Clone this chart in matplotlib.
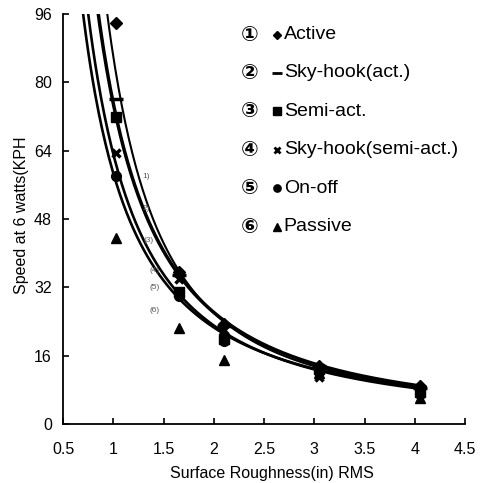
import numpy as np
import matplotlib
matplotlib.use("Agg")
import matplotlib.pyplot as plt

plt.rcParams['font.family'] = ['Liberation Sans', 'DejaVu Sans', 'Noto Sans CJK JP']

# Измеренные точки
roughness = [1.03, 1.65, 2.1, 3.05, 4.05]
active = [94, 35.5, 23.5, 13.5, 8.8]
skyhook_act = [76, 35, 23, 13.5, 8.5]
semi_act = [72, 31, 20, 13, 7.5]
skyhook_semi = [63.5, 34, 22, 11, 7]
on_off = [58, 30, 19.5, 13, 8]
passive = [43.5, 22.5, 15, 12, 6]

# Кривые аппроксимации y = a * x^-b + c
curve_a = [84.0, 75.0, 63.2, 58.7]
curve_b = [1.807, 1.521, 1.454, 1.376]
curve_c = [2.0, 0.0, 0.0, 0.0]
curve_lw = [1.5, 2.5, 1.9, 1.9]

series_names = ["Active", "Sky-hook(act.)", "Semi-act.", "Sky-hook(semi-act.)", "On-off", "Passive"]
series_nums = ["①", "②", "③", "④", "⑤", "⑥"]
series_markers = ["D", "_", "s", "x", "o", "^"]
series_data = [active, skyhook_act, semi_act, skyhook_semi, on_off, passive]

curve_tags = ["1)", "2)", "(3)", "(4)", "(5)", "(6)"]
tag_x = [1.33, 1.33, 1.35, 1.41, 1.41, 1.41]
tag_y = [58, 50.5, 43, 36, 32, 26.5]

fig = plt.figure(figsize=(4.89, 4.83), dpi=100)
ax = fig.add_axes([0.129, 0.122, 0.822, 0.849])

x = np.linspace(0.6, 4.05, 300)
for a, b, c, lw in zip(curve_a, curve_b, curve_c, curve_lw):
    ax.plot(x, a * x ** (-b) + c, color="black", lw=lw)

sizes = {"D": 6, "_": 10, "s": 7, "x": 6, "o": 7, "^": 7}
for data, m in zip(series_data, series_markers):
    ax.plot(roughness, data, linestyle="none", marker=m, color="black",
            markersize=sizes[m], markeredgewidth=2.5 if m in "_x" else 1)

for t, tx, ty in zip(curve_tags, tag_x, tag_y):
    ax.text(tx, ty, t, fontsize=6, color="#555555", ha="center", va="center")

# Легенда вручную
for i, (num, name, m) in enumerate(zip(series_nums, series_names, series_markers)):
    yy = 0.950 - i * 0.0937
    ax.text(0.465, yy, num, transform=ax.transAxes, fontsize=15, va="center", ha="center",
            family=['DejaVu Sans', 'Noto Sans CJK JP'], fontweight="bold")
    ax.plot([0.532], [yy], transform=ax.transAxes, marker=m, color="black",
            markersize=sizes[m] * 0.75, markeredgewidth=2 if m in "_x" else 1, clip_on=False)
    ax.text(0.549, yy, name, transform=ax.transAxes, fontsize=14, va="center", ha="left")

ax.set_xlim(0.5, 4.5)
ax.set_ylim(0, 96)
ax.set_xticks(np.arange(0.5, 4.51, 0.5))
ax.set_xticklabels(["0.5", "1", "1.5", "2", "2.5", "3", "3.5", "4", "4.5"])
ax.set_yticks(np.arange(0, 97, 16))
ax.tick_params(direction="in", labelsize=11.5, length=4, width=1.2)
ax.tick_params(axis="x", pad=13)
ax.tick_params(axis="y", pad=8)
ax.spines["top"].set_visible(False)
ax.spines["right"].set_visible(False)
ax.spines["left"].set_linewidth(1.3)
ax.spines["bottom"].set_linewidth(1.3)

ax.set_xlabel("Surface Roughness(in) RMS", fontsize=11.5)
ax.xaxis.set_label_coords(0.519, -0.103)
fig.text(0.044, 0.555, "Speed at 6 watts(KPH", rotation=90, fontsize=11.5, va="center", ha="center")

fig.savefig("out.png", dpi=100)
